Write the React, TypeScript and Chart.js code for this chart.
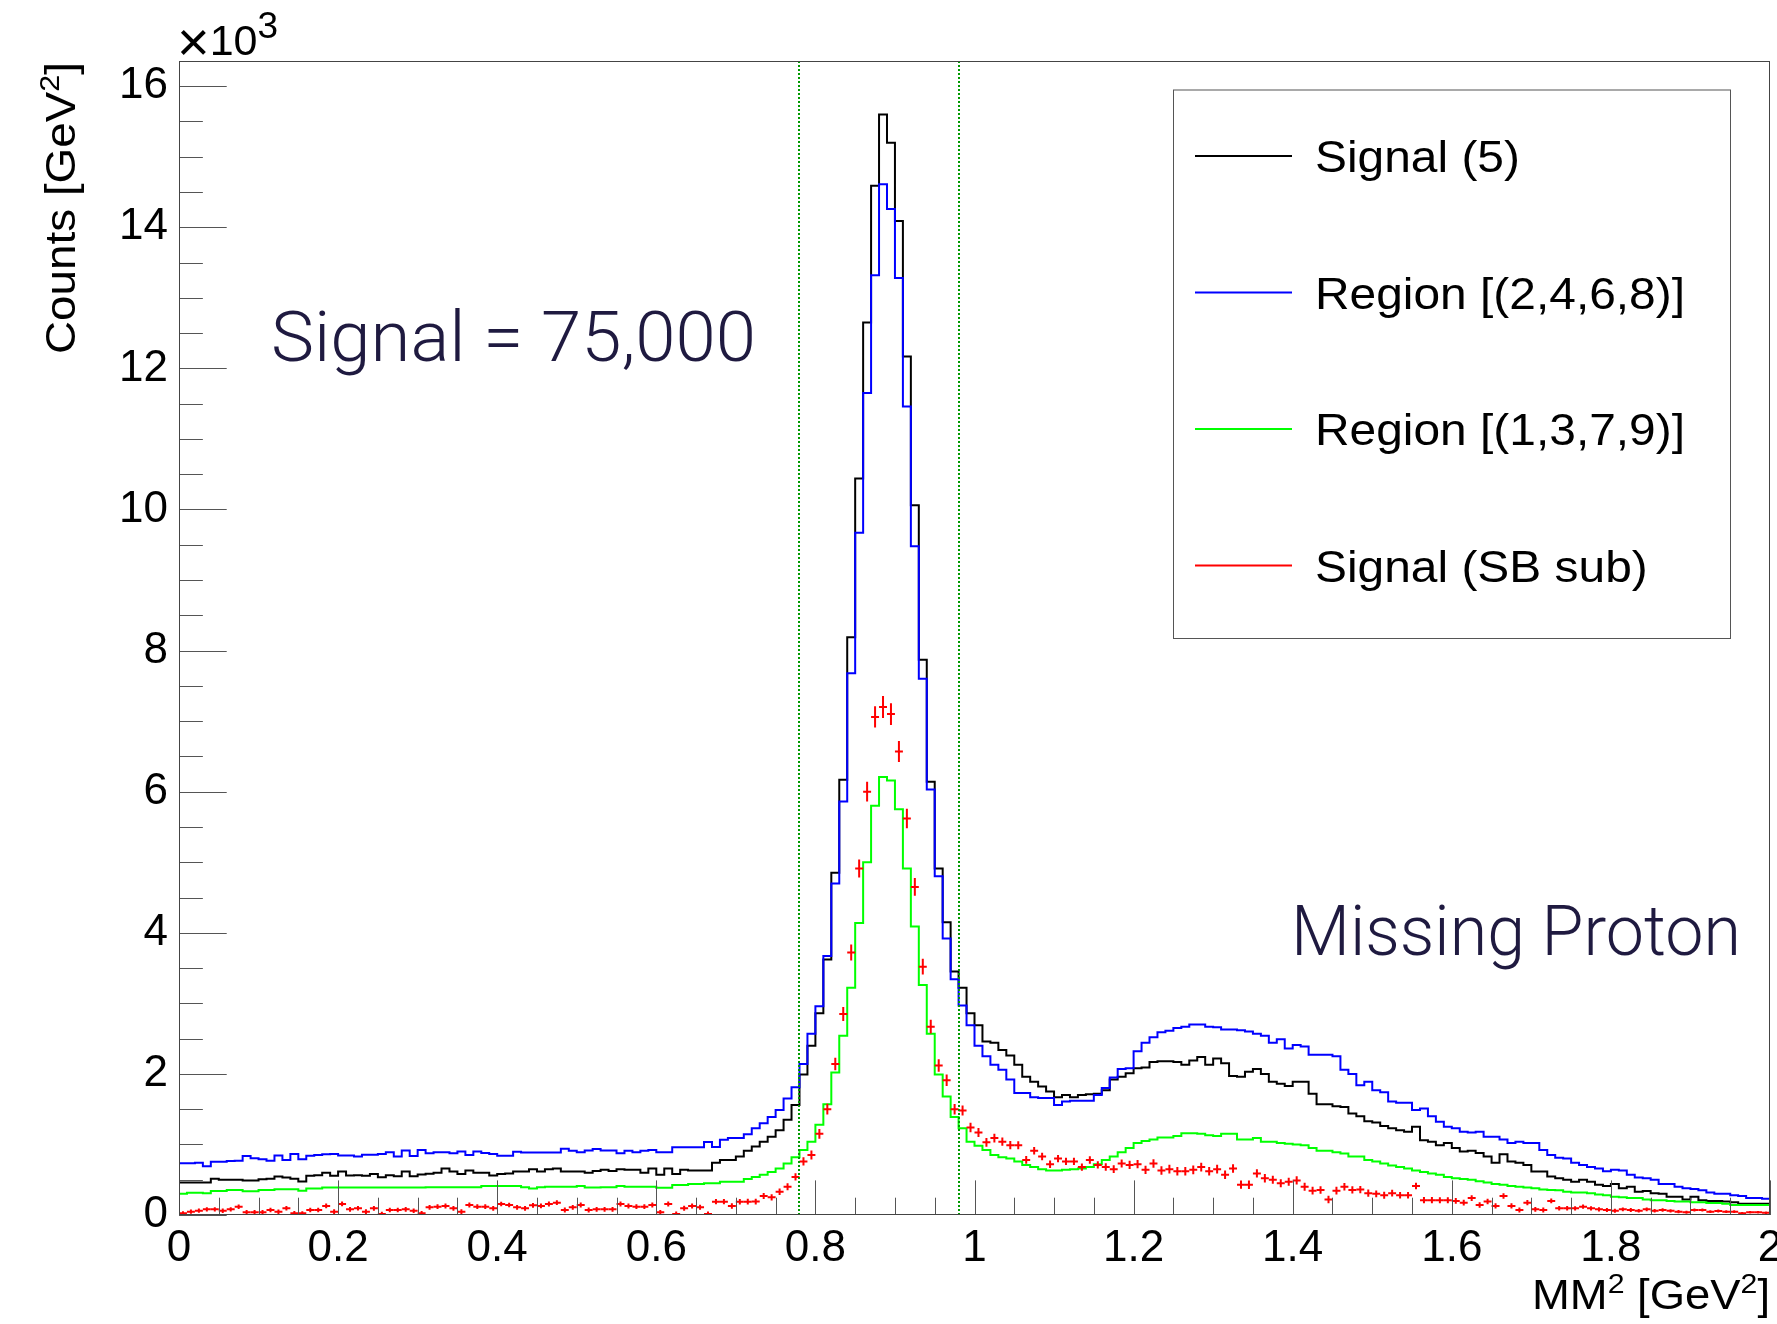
import React, { useEffect, useRef } from 'react';
import { Chart, registerables } from 'chart.js';

Chart.register(...registerables);

// ---------------- data ----------------
const BIN_WIDTH = 0.01;
const X_MIN = 0;
const X_MAX = 2;
const Y_MAX = 16.357; // in units of 10^3 counts

const xTickValues = [0, 0.2, 0.4, 0.6, 0.8, 1.0, 1.2, 1.4, 1.6, 1.8, 2.0];
const yTickValues = [0, 2, 4, 6, 8, 10, 12, 14, 16];
const xMinorStep = 0.05;
const yMinorStep = 0.5;

const seriesLabels = ['Signal (5)', 'Region [(2,4,6,8)]', 'Region [(1,3,7,9)]', 'Signal (SB sub)'];
const seriesColors = ['#000000', '#0000ff', '#00ff00', '#ff0000'];

const cutLines = [0.78, 0.98];

// Signal (5), 200 bins of 0.01 from 0 to 2 (x10^3)
const signal5 = [
  0.46, 0.46, 0.46, 0.46, 0.515, 0.50, 0.50, 0.50, 0.49, 0.49,
  0.505, 0.515, 0.545, 0.53, 0.515, 0.475, 0.555, 0.565, 0.60, 0.555,
  0.615, 0.56, 0.565, 0.555, 0.58, 0.535, 0.565, 0.55, 0.615, 0.55,
  0.575, 0.585, 0.60, 0.66, 0.615, 0.58, 0.63, 0.60, 0.60, 0.56,
  0.58, 0.59, 0.615, 0.615, 0.65, 0.615, 0.65, 0.66, 0.615, 0.615,
  0.615, 0.60, 0.625, 0.64, 0.625, 0.65, 0.64, 0.64, 0.60, 0.66,
  0.57, 0.66, 0.58, 0.64, 0.63, 0.63, 0.63, 0.74, 0.78, 0.78,
  0.83, 0.91, 0.97, 1.04, 1.11, 1.20, 1.35, 1.56, 1.99, 2.40,
  2.86, 3.62, 4.85, 6.17, 8.19, 10.44, 12.65, 14.59, 15.60, 15.20,
  14.09, 12.17, 10.06, 7.87, 6.14, 4.91, 4.15, 3.45, 3.22, 2.86,
  2.69, 2.46, 2.44, 2.34, 2.26, 2.13, 1.96, 1.89, 1.82, 1.75,
  1.67, 1.70, 1.67, 1.70, 1.71, 1.72, 1.77, 1.92, 1.96, 2.01,
  2.08, 2.09, 2.17, 2.18, 2.18, 2.17, 2.13, 2.19, 2.24, 2.13,
  2.22, 2.15, 1.97, 1.96, 2.03, 2.07, 2.00, 1.89, 1.86, 1.83,
  1.89, 1.89, 1.72, 1.57, 1.57, 1.54, 1.53, 1.44, 1.40, 1.33,
  1.31, 1.26, 1.23, 1.20, 1.18, 1.25, 1.06, 1.04, 0.99, 1.02,
  0.95, 0.90, 0.91, 0.88, 0.83, 0.74, 0.86, 0.76, 0.74, 0.71,
  0.615, 0.615, 0.545, 0.52, 0.50, 0.47, 0.50, 0.47, 0.43, 0.41,
  0.44, 0.38, 0.40, 0.33, 0.34, 0.31, 0.30, 0.26, 0.26, 0.22,
  0.26, 0.21, 0.20, 0.20, 0.19, 0.18, 0.16, 0.16, 0.16, 0.16,
];

// Region [(2,4,6,8)]
const region2468 = [
  0.735, 0.735, 0.74, 0.69, 0.755, 0.755, 0.765, 0.77, 0.835, 0.805,
  0.79, 0.77, 0.845, 0.78, 0.865, 0.79, 0.84, 0.85, 0.86, 0.865,
  0.845, 0.845, 0.83, 0.855, 0.855, 0.865, 0.89, 0.83, 0.915, 0.835,
  0.92, 0.875, 0.89, 0.89, 0.875, 0.90, 0.85, 0.90, 0.88, 0.865,
  0.84, 0.84, 0.895, 0.885, 0.885, 0.885, 0.885, 0.885, 0.94, 0.91,
  0.89, 0.915, 0.935, 0.915, 0.915, 0.875, 0.91, 0.89, 0.91, 0.92,
  0.89, 0.89, 0.96, 0.96, 0.96, 0.96, 1.035, 0.965, 1.065, 1.09,
  1.09, 1.145, 1.23, 1.30, 1.39, 1.49, 1.65, 1.81, 2.14, 2.57,
  2.96, 3.67, 4.70, 5.86, 7.68, 9.67, 11.65, 13.32, 14.61, 14.26,
  13.28, 11.46, 9.48, 7.60, 6.03, 4.80, 3.92, 3.34, 2.97, 2.69,
  2.40, 2.25, 2.13, 2.06, 1.92, 1.73, 1.73, 1.67, 1.66, 1.66,
  1.56, 1.61, 1.62, 1.62, 1.62, 1.70, 1.80, 1.95, 2.07, 2.08,
  2.32, 2.44, 2.52, 2.59, 2.61, 2.65, 2.67, 2.70, 2.70, 2.67,
  2.66, 2.63, 2.63, 2.62, 2.60, 2.57, 2.54, 2.44, 2.49, 2.36,
  2.41, 2.39, 2.27, 2.27, 2.27, 2.25, 2.06, 2.00, 1.84, 1.89,
  1.77, 1.74, 1.61, 1.59, 1.59, 1.49, 1.51, 1.40, 1.32, 1.25,
  1.23, 1.18, 1.17, 1.18, 1.11, 1.11, 1.07, 1.02, 1.04, 1.02,
  1.02, 0.92, 0.85, 0.81, 0.80, 0.74, 0.71, 0.68, 0.66, 0.62,
  0.64, 0.63, 0.57, 0.53, 0.52, 0.50, 0.44, 0.44, 0.40, 0.38,
  0.37, 0.35, 0.32, 0.30, 0.30, 0.28, 0.27, 0.24, 0.24, 0.23,
];

// Region [(1,3,7,9)]
const region1379 = [
  0.30, 0.315, 0.315, 0.31, 0.34, 0.34, 0.355, 0.355, 0.335, 0.335,
  0.355, 0.355, 0.365, 0.365, 0.365, 0.345, 0.375, 0.375, 0.39, 0.39,
  0.39, 0.39, 0.39, 0.39, 0.39, 0.39, 0.39, 0.39, 0.39, 0.39,
  0.39, 0.395, 0.395, 0.395, 0.395, 0.395, 0.395, 0.395, 0.41, 0.41,
  0.41, 0.41, 0.41, 0.395, 0.375, 0.395, 0.40, 0.40, 0.40, 0.40,
  0.41, 0.39, 0.39, 0.395, 0.395, 0.41, 0.40, 0.40, 0.40, 0.40,
  0.385, 0.385, 0.425, 0.425, 0.44, 0.44, 0.45, 0.45, 0.47, 0.47,
  0.47, 0.51, 0.54, 0.57, 0.61, 0.66, 0.73, 0.82, 0.92, 1.04,
  1.28, 1.57, 2.02, 2.54, 3.22, 4.14, 5.00, 5.80, 6.21, 6.16,
  5.75, 4.91, 4.09, 3.26, 2.57, 1.99, 1.68, 1.39, 1.23, 1.04,
  0.98, 0.92, 0.85, 0.82, 0.80, 0.76, 0.71, 0.68, 0.65, 0.63,
  0.63, 0.64, 0.65, 0.66, 0.68, 0.72, 0.78, 0.83, 0.89, 0.95,
  1.02, 1.05, 1.07, 1.10, 1.10, 1.12, 1.16, 1.16, 1.15, 1.13,
  1.12, 1.15, 1.15, 1.07, 1.07, 1.09, 1.04, 1.04, 1.02, 1.01,
  1.00, 0.99, 0.95, 0.91, 0.91, 0.89, 0.87, 0.83, 0.83, 0.78,
  0.76, 0.73, 0.70, 0.68, 0.66, 0.63, 0.61, 0.59, 0.57, 0.54,
  0.52, 0.51, 0.50, 0.48, 0.46, 0.44, 0.43, 0.41, 0.40, 0.39,
  0.38, 0.36, 0.355, 0.35, 0.33, 0.32, 0.32, 0.31, 0.29, 0.28,
  0.26, 0.25, 0.24, 0.24, 0.22, 0.21, 0.21, 0.20, 0.19, 0.19,
  0.18, 0.18, 0.17, 0.17, 0.16, 0.14, 0.14, 0.14, 0.14, 0.14,
];

// Signal (SB sub), bin centres
const signalSBsub = [
  0.024, 0.047, 0.061, 0.08, 0.08, 0.061, 0.08, 0.118, 0.038, 0.038,
  0.038, 0.071, 0.047, 0.095, 0.024, 0.024, 0.071, 0.071, 0.128, 0.047,
  0.156, 0.08, 0.095, 0.047, 0.095, 0.014, 0.071, 0.071, 0.08, 0.061,
  0.024, 0.109, 0.118, 0.128, 0.095, 0.047, 0.142, 0.118, 0.118, 0.095,
  0.156, 0.142, 0.109, 0.095, 0.137, 0.128, 0.156, 0.175, 0.071, 0.109,
  0.142, 0.071, 0.08, 0.08, 0.08, 0.156, 0.128, 0.118, 0.118, 0.142,
  0.038, 0.156, 0.014, 0.095, 0.128, 0.109, 0.014, 0.189, 0.189, 0.128,
  0.189, 0.189, 0.19, 0.27, 0.25, 0.33, 0.40, 0.54, 0.76, 0.85,
  1.15, 1.50, 2.14, 2.85, 3.72, 4.91, 6.00, 7.06, 7.20, 7.10,
  6.57, 5.62, 4.65, 3.52, 2.67, 2.12, 1.91, 1.50, 1.48, 1.24,
  1.17, 1.03, 1.09, 1.04, 0.99, 0.99, 0.78, 0.91, 0.83, 0.72,
  0.80, 0.76, 0.76, 0.68, 0.78, 0.71, 0.68, 0.65, 0.73, 0.71,
  0.72, 0.64, 0.73, 0.63, 0.65, 0.62, 0.62, 0.64, 0.68, 0.62,
  0.65, 0.57, 0.66, 0.43, 0.43, 0.59, 0.52, 0.50, 0.45, 0.47,
  0.49, 0.40, 0.345, 0.355, 0.22, 0.345, 0.40, 0.355, 0.36, 0.31,
  0.30, 0.28, 0.31, 0.28, 0.28, 0.41, 0.21, 0.21, 0.21, 0.21,
  0.20, 0.175, 0.24, 0.142, 0.19, 0.128, 0.27, 0.128, 0.071, 0.175,
  0.08, 0.071, 0.20, 0.095, 0.095, 0.095, 0.118, 0.095, 0.08, 0.071,
  0.06, 0.08, 0.071, 0.06, 0.08, 0.06, 0.071, 0.06, 0.047, 0.038,
  0.071, 0.071, 0.047, 0.057, 0.047, 0.047, 0.024, 0.038, 0.038, 0.033,
];

// statistical error of the side-band subtracted signal (propagated from the counts, x10^3)
const sbErr = signalSBsub.map((_, i) =>
  Math.sqrt((signal5[i] + region2468[i] / 2 + region1379[i] / 4) * 1000) / 1000
);

// ---------------- styling / layout ----------------
const W = 1777;
const H = 1324;
const FONT = '"Liberation Sans", Arial, Helvetica, sans-serif';
const LIGHT_FONT = 'Roboto, Lato, "Open Sans", sans-serif';
const TEXT_NAVY = '#1f1a40';
const AXIS_COLOR = '#555555';
const LEGEND_BOX = { x: 1173, y: 89.5, w: 557, h: 548.5 };

type Part = { t: string; sup?: boolean; size?: number; rise?: number };

function drawRich(
  ctx: CanvasRenderingContext2D,
  parts: Part[],
  x: number,
  y: number,
  o: { size: number; supSize: number; supRise: number; family: string; weight?: string; color: string; align: 'left' | 'right'; targetWidth?: number }
) {
  const weight = o.weight || '400';
  const sizeOf = (p: Part) => (p.size ? p.size : p.sup ? o.supSize : o.size);
  const riseOf = (p: Part) => (p.rise !== undefined ? p.rise : p.sup ? o.supRise : 0);
  let natural = 0;
  for (const p of parts) {
    ctx.font = `${weight} ${sizeOf(p)}px ${o.family}`;
    natural += ctx.measureText(p.t).width;
  }
  const sx = o.targetWidth ? o.targetWidth / natural : 1;
  ctx.save();
  ctx.translate(x, y);
  ctx.scale(sx, 1);
  ctx.textAlign = 'left';
  ctx.textBaseline = 'alphabetic';
  ctx.fillStyle = o.color;
  let cx = o.align === 'right' ? -natural : 0;
  for (const p of parts) {
    ctx.font = `${weight} ${sizeOf(p)}px ${o.family}`;
    ctx.fillText(p.t, cx, -riseOf(p));
    cx += ctx.measureText(p.t).width;
  }
  ctx.restore();
}

const histPoints = (vals: number[]) => [
  ...vals.map((v, i) => ({ x: X_MIN + i * BIN_WIDTH, y: v })),
  { x: X_MAX, y: vals[vals.length - 1] },
];

const rootStylePlugin = {
  id: 'rootStyle',
  afterDatasetsDraw(chart: any) {
    const { ctx, chartArea: ca } = chart;
    const xs = chart.scales.x;
    const ys = chart.scales.y;
    ctx.save();
    ctx.beginPath();
    ctx.rect(ca.left, ca.top, ca.right - ca.left, ca.bottom - ca.top);
    ctx.clip();

    // error crosses for the SB-subtracted signal
    const ds = chart.data.datasets[3];
    const meta = chart.getDatasetMeta(3);
    ctx.strokeStyle = seriesColors[3];
    ctx.lineWidth = 2;
    meta.data.forEach((pt: any, i: number) => {
      const d = ds.data[i];
      const xl = xs.getPixelForValue(d.x - BIN_WIDTH / 2);
      const xr = xs.getPixelForValue(d.x + BIN_WIDTH / 2);
      const yt = ys.getPixelForValue(d.y + sbErr[i]);
      const yb = ys.getPixelForValue(d.y - sbErr[i]);
      ctx.beginPath();
      ctx.moveTo(xl, pt.y);
      ctx.lineTo(xr, pt.y);
      ctx.moveTo(pt.x, yt);
      ctx.lineTo(pt.x, yb);
      ctx.stroke();
    });

    // dotted cut lines
    ctx.strokeStyle = '#009900';
    ctx.lineWidth = 2;
    ctx.setLineDash([2, 2]);
    cutLines.forEach((v) => {
      const px = Math.round(xs.getPixelForValue(v));
      ctx.beginPath();
      ctx.moveTo(px, ca.top);
      ctx.lineTo(px, ca.bottom);
      ctx.stroke();
    });
    ctx.setLineDash([]);
    ctx.restore();
  },
  afterDraw(chart: any) {
    const { ctx, chartArea: ca } = chart;
    const xs = chart.scales.x;
    const ys = chart.scales.y;
    const plotW = ca.right - ca.left;
    const plotH = ca.bottom - ca.top;
    ctx.save();

    // ticks (inside the frame, ROOT style)
    ctx.strokeStyle = AXIS_COLOR;
    ctx.lineWidth = 1;
    const yMajLen = plotW * 0.03;
    const xMajLen = plotH * 0.03;
    ctx.beginPath();
    for (let v = 0; v <= ys.max + 1e-9; v += yMinorStep) {
      const major = Math.abs(v / 2 - Math.round(v / 2)) < 1e-6;
      const py = Math.round(ys.getPixelForValue(v)) + 0.5;
      ctx.moveTo(ca.left, py);
      ctx.lineTo(ca.left + (major ? yMajLen : yMajLen / 2), py);
    }
    for (let k = 0; k * xMinorStep <= X_MAX + 1e-9; k++) {
      const v = k * xMinorStep;
      const major = k % 4 === 0;
      const px = Math.round(xs.getPixelForValue(v)) + 0.5;
      ctx.moveTo(px, ca.bottom);
      ctx.lineTo(px, ca.bottom - (major ? xMajLen : xMajLen / 2));
    }
    ctx.stroke();

    // frame
    ctx.strokeStyle = '#444444';
    ctx.lineWidth = 1;
    ctx.strokeRect(Math.round(ca.left) + 0.5, Math.round(ca.top) + 0.5, Math.round(plotW) - 1, Math.round(plotH) - 1);

    // legend
    const lb = LEGEND_BOX;
    ctx.fillStyle = '#ffffff';
    ctx.fillRect(lb.x, lb.y, lb.w, lb.h);
    ctx.strokeStyle = '#555555';
    ctx.lineWidth = 1;
    ctx.strokeRect(lb.x + 0.5, lb.y + 0.5, lb.w, lb.h);
    ctx.font = `400 44px ${FONT}`;
    const legendSx = 370 / ctx.measureText(seriesLabels[1]).width;
    seriesLabels.forEach((label, i) => {
      const cy = lb.y + 66.5 + i * 136.5;
      ctx.strokeStyle = seriesColors[i];
      ctx.lineWidth = 2;
      ctx.beginPath();
      ctx.moveTo(lb.x + 22, cy);
      ctx.lineTo(lb.x + 119, cy);
      ctx.stroke();
      ctx.font = `400 44px ${FONT}`;
      const w = ctx.measureText(label).width * legendSx;
      drawRich(ctx, [{ t: label }], lb.x + 142, cy + 16, {
        size: 44, supSize: 30, supRise: 15, family: FONT, color: '#000', align: 'left', targetWidth: w,
      });
    });

    // annotations
    drawRich(ctx, [{ t: 'Signal = 75,000' }], 271, 361, {
      size: 70, supSize: 40, supRise: 20, family: LIGHT_FONT, weight: '300', color: TEXT_NAVY, align: 'left', targetWidth: 485,
    });
    drawRich(ctx, [{ t: 'Missing Proton' }], 1741, 955, {
      size: 70, supSize: 40, supRise: 20, family: LIGHT_FONT, weight: '300', color: TEXT_NAVY, align: 'right', targetWidth: 450,
    });

    // exponent label
    drawRich(ctx, [{ t: '\u00d7', size: 56, rise: -6 }, { t: '10' }, { t: '3', sup: true }], 177, 55, {
      size: 43, supSize: 37, supRise: 17, family: FONT, color: '#000', align: 'left',
    });

    // x title
    drawRich(ctx, [{ t: 'MM' }, { t: '2', sup: true }, { t: ' [GeV' }, { t: '2', sup: true }, { t: ']' }], ca.right, 1309, {
      size: 42, supSize: 28, supRise: 16, family: FONT, color: '#000', align: 'right', targetWidth: 238,
    });

    // y title (rotated)
    ctx.save();
    ctx.translate(75, ca.top + 1);
    ctx.rotate(-Math.PI / 2);
    drawRich(ctx, [{ t: 'Counts [GeV' }, { t: '2', sup: true }, { t: ']' }], 0, 0, {
      size: 42, supSize: 28, supRise: 16, family: FONT, color: '#000', align: 'right', targetWidth: 292,
    });
    ctx.restore();

    ctx.restore();
  },
};

export default function App() {
  const canvasRef = useRef<HTMLCanvasElement | null>(null);

  useEffect(() => {
    document.body.style.margin = '0';
    const canvas = canvasRef.current;
    if (!canvas) return;

    const chart = new Chart(canvas, {
      type: 'line',
      data: {
        datasets: [
          {
            label: seriesLabels[0], data: histPoints(signal5), borderColor: seriesColors[0], borderWidth: 2,
            pointRadius: 0, stepped: true, fill: false, order: 3,
          },
          {
            label: seriesLabels[1], data: histPoints(region2468), borderColor: seriesColors[1], borderWidth: 2,
            pointRadius: 0, stepped: true, fill: false, order: 2,
          },
          {
            label: seriesLabels[2], data: histPoints(region1379), borderColor: seriesColors[2], borderWidth: 2,
            pointRadius: 0, stepped: true, fill: false, order: 1,
          },
          {
            label: seriesLabels[3],
            data: signalSBsub.map((v, i) => ({ x: X_MIN + (i + 0.5) * BIN_WIDTH, y: v })),
            borderColor: seriesColors[3], backgroundColor: seriesColors[3], showLine: false, pointRadius: 0,
            pointHoverRadius: 0, order: 0,
          },
        ] as any,
      },
      options: {
        responsive: false,
        maintainAspectRatio: false,
        animation: false,
        devicePixelRatio: 1,
        events: [],
        layout: { padding: { left: 0, right: 7, top: 61, bottom: 0 } },
        plugins: {
          legend: { display: false },
          tooltip: { enabled: false },
          title: { display: false },
        },
        scales: {
          x: {
            type: 'linear',
            min: X_MIN,
            max: X_MAX,
            grid: { display: false, drawTicks: false },
            border: { display: false },
            afterBuildTicks: (s: any) => { s.ticks = xTickValues.map((v) => ({ value: v })); },
            afterFit: (s: any) => { s.height = 109; s.paddingLeft = 0; s.paddingRight = 0; },
            ticks: {
              autoSkip: false, maxRotation: 0, minRotation: 0, padding: 7, color: '#000',
              font: { family: FONT, size: 44 },
              callback: (v: any) => String(Math.round(Number(v) * 10) / 10),
            },
          },
          y: {
            type: 'linear',
            min: 0,
            max: Y_MAX,
            grid: { display: false, drawTicks: false },
            border: { display: false },
            afterBuildTicks: (s: any) => { s.ticks = yTickValues.map((v) => ({ value: v })); },
            afterFit: (s: any) => { s.width = 179; s.paddingTop = 0; s.paddingBottom = 0; },
            ticks: {
              autoSkip: false, padding: 11, color: '#000',
              font: { family: FONT, size: 44 },
              callback: (v: any) => String(Math.round(Number(v))),
            },
          },
        },
      } as any,
      plugins: [rootStylePlugin],
    });

    return () => chart.destroy();
  }, []);

  return (
    <div style={{ width: W, height: H, background: '#fff' }}>
      <canvas ref={canvasRef} width={W} height={H} style={{ display: 'block', width: W, height: H }} />
    </div>
  );
}
